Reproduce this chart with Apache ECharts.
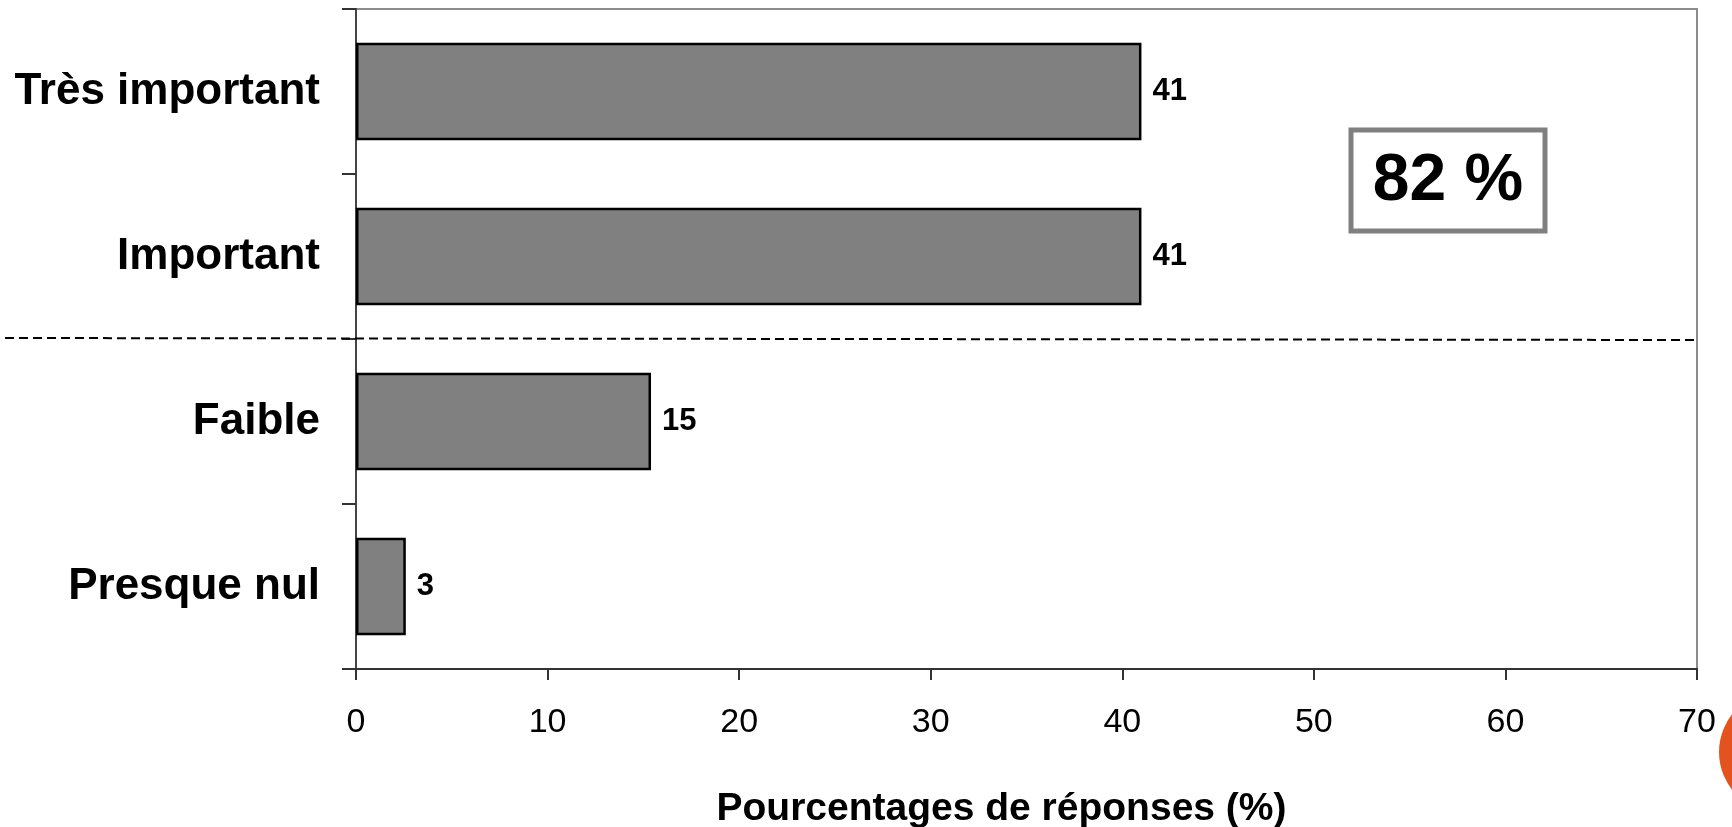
<!DOCTYPE html>
<html>
<head>
<meta charset="utf-8">
<script src="https://cdn.jsdelivr.net/npm/echarts@6/dist/echarts.min.js"></script>
<style>
html,body{margin:0;padding:0;background:#fff;}
#chart{width:1732px;height:827px;}
</style>
</head>
<body>
<div id="chart"></div>
<script>
const categories = ["Très important", "Important", "Faible", "Presque nul"];
const values = [41, 41, 15.4, 2.6];
const xTicks = [0, 10, 20, 30, 40, 50, 60, 70];
const axisTitle = "Pourcentages de réponses (%)";
const totalLabel = "82 %";

const FONT = "'Liberation Sans', Arial, sans-serif";
const chart = echarts.init(document.getElementById('chart'), null, {renderer: 'canvas'});

const option = {
  backgroundColor: '#ffffff',
  animation: false,
  grid: {
    left: 356, right: 35, top: 9, bottom: 158,
    containLabel: false, outerBoundsMode: 'none',
    show: true, borderColor: '#8c8c8c', borderWidth: 2, backgroundColor: 'transparent'
  },
  xAxis: {
    type: 'value',
    min: xTicks[0], max: xTicks[xTicks.length - 1], interval: 10,
    axisLine: {show: true, lineStyle: {color: '#333', width: 2}},
    axisTick: {show: true, length: 11, lineStyle: {color: '#333', width: 2}},
    splitLine: {show: false},
    axisLabel: {color: '#000', fontFamily: FONT, fontSize: 34, margin: 37},
    name: axisTitle,
    nameLocation: 'middle',
    nameGap: 121,
    nameTextStyle: {color: '#000', fontFamily: FONT, fontSize: 39, fontWeight: 'bold', padding: [0, 50, 0, 0]}
  },
  yAxis: {
    type: 'category',
    data: categories,
    inverse: true,
    axisLine: {show: true, lineStyle: {color: '#444', width: 2}},
    axisTick: {show: true, length: 14, inside: false, lineStyle: {color: '#333', width: 2}},
    axisLabel: {color: '#000', fontFamily: FONT, fontSize: 44, fontWeight: 'bold', margin: 36}
  },
  series: [{
    type: 'bar',
    data: values,
    barCategoryGap: '41%',
    itemStyle: {color: '#808080', borderColor: '#000', borderWidth: 2.5},
    label: {
      show: true, position: 'right', distance: 11,
      color: '#000', fontFamily: FONT, fontSize: 31, fontWeight: 'bold',
      formatter: p => String(Math.round(p.value))
    }
  }]
};
chart.setOption(option);

// dashed separator between "Important" and "Faible" (band boundary)
const yTop = chart.convertToPixel({yAxisIndex: 0}, categories[1]);
const yBot = chart.convertToPixel({yAxisIndex: 0}, categories[2]);
const ySep = (yTop + yBot) / 2;
const xRight = chart.convertToPixel({xAxisIndex: 0}, xTicks[xTicks.length - 1]);

chart.setOption({
  graphic: [
    {
      type: 'line',
      shape: {x1: 5, y1: ySep - 1, x2: xRight, y2: ySep + 1},
      style: {stroke: '#000', lineWidth: 2, lineDash: [9, 5]},
      z: 10
    },
    {
      type: 'rect',
      shape: {x: 1351, y: 130, width: 194, height: 101},
      style: {fill: '#fff', stroke: '#808080', lineWidth: 5},
      z: 10
    },
    {
      type: 'text',
      x: 1448, y: 182,
      style: {text: totalLabel, fill: '#000', font: "bold 66px " + FONT, align: 'center', verticalAlign: 'middle'},
      z: 11
    },
    {
      type: 'circle',
      shape: {cx: 1780, cy: 752, r: 61},
      style: {fill: '#E4531F'},
      z: 10
    }
  ]
});
</script>
</body>
</html>
